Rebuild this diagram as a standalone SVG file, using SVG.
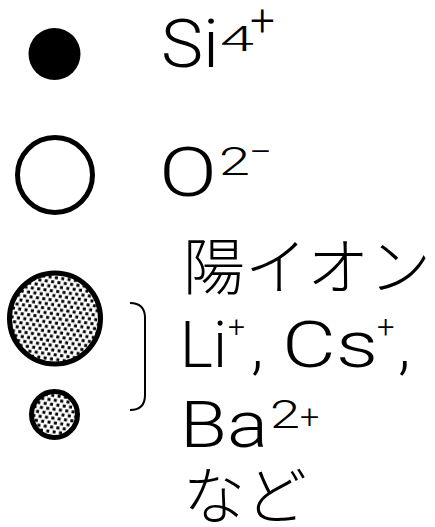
<svg xmlns="http://www.w3.org/2000/svg" width="435" height="527" viewBox="0 0 435 527">
<defs>
<pattern id="dots" patternUnits="userSpaceOnUse" width="6.4" height="9" patternTransform="rotate(8)">
<rect width="6.4" height="9" fill="#fff"/>
<rect x="0.2" y="0.2" width="3" height="3" fill="#000"/>
<rect x="3.4" y="4.7" width="3" height="3" fill="#000"/>
</pattern>
</defs>
<style>
.t{font-family:"Roboto","Liberation Sans",sans-serif;font-weight:300;fill:#000}
.j{font-family:"Noto Sans CJK JP",sans-serif;font-weight:300;fill:#000;font-size:62px}
.c{stroke:#000;stroke-width:5}
</style>
<rect width="435" height="527" fill="#fff"/>
<g id="si">
<circle cx="54.5" cy="54" r="26" fill="#000"/>
<text class="t" x="161" y="67" font-size="66" textLength="58" lengthAdjust="spacingAndGlyphs">Si</text>
<text class="t" x="220" y="51" font-size="35" textLength="34" lengthAdjust="spacingAndGlyphs">4</text>
<text class="t" x="250" y="36" font-size="44">+</text>
</g>
<g id="o">
<circle cx="55" cy="175" r="37.5" fill="#fff" class="c"/>
<text class="t" x="159" y="196" font-size="69" textLength="58" lengthAdjust="spacingAndGlyphs">O</text>
<text class="t" x="219" y="175" font-size="39" textLength="31" lengthAdjust="spacingAndGlyphs">2</text>
<text class="t" x="249" y="164" font-size="36" textLength="23" lengthAdjust="spacingAndGlyphs">−</text>
</g>
<g id="cation-large">
<circle cx="55" cy="318.5" r="45.5" fill="url(#dots)" class="c"/>
</g>
<g id="cation-small">
<circle cx="54.5" cy="414.5" r="23" fill="url(#dots)" class="c"/>
</g>
<g id="connectors">
<path d="M130,303 Q145,303 145,318 L145,395 Q145,410 130,410" fill="none" stroke="#000" stroke-width="2"/>
</g>
<g id="label">
<text class="j" x="183" y="290">陽イオン</text>
<text class="t" x="180" y="367" font-size="65" textLength="47" lengthAdjust="spacingAndGlyphs">Li</text>
<text class="t" x="228" y="337" font-size="30">+</text>
<text class="t" x="251" y="367" font-size="65">,</text>
<text class="t" x="282" y="367" font-size="65" textLength="96" lengthAdjust="spacingAndGlyphs">Cs</text>
<text class="t" x="377" y="338" font-size="31">+</text>
<text class="t" x="398" y="367" font-size="65">,</text>
<text class="t" x="180" y="447" font-size="65" textLength="88" lengthAdjust="spacingAndGlyphs">Ba</text>
<text class="t" x="270" y="428" font-size="39" textLength="30" lengthAdjust="spacingAndGlyphs">2</text>
<text class="t" x="300" y="428" font-size="34">+</text>
<text class="j" x="183" y="519">など</text>
</g>
</svg>
